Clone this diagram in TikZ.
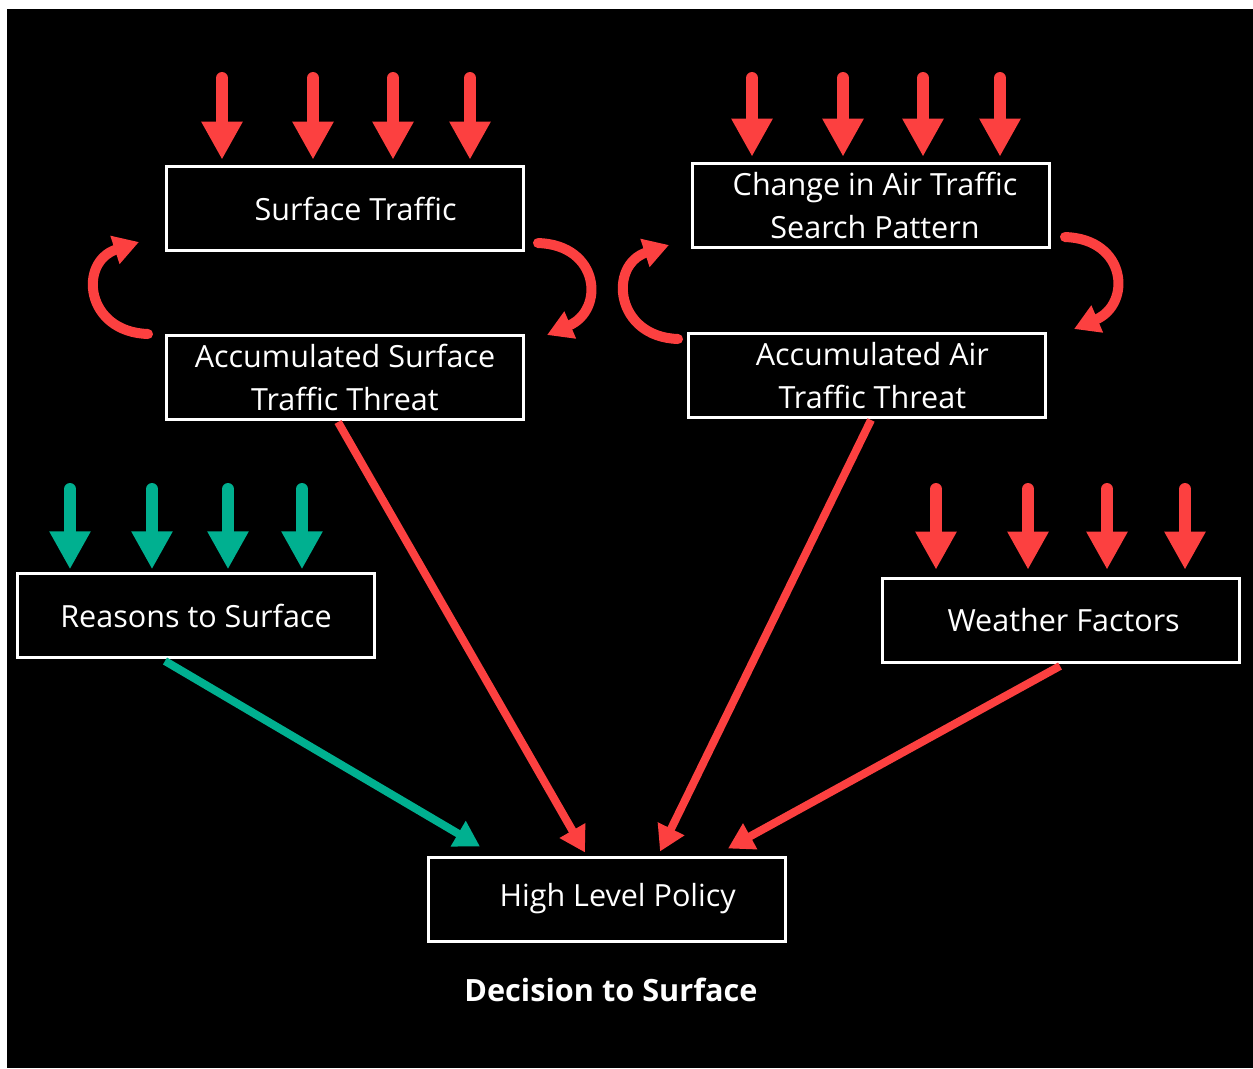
\documentclass[tikz,border=0pt]{standalone}
\usepackage{fontspec}
\setmainfont{Open Sans}
\usetikzlibrary{arrows.meta,calc}
\definecolor{ared}{RGB}{252,64,64}
\definecolor{agreen}{RGB}{0,176,144}
\tikzset{
  box/.style={draw=white, line width=2.25pt, fill=black, text=white, minimum width=268pt, minimum height=63pt, inner sep=0pt, align=center, font=\fontsize{22.9pt}{32pt}\selectfont},
  vred/.style={draw=ared, line width=9pt, line cap=round, -{Triangle[width=29pt,length=28.5pt]}},
  vgreen/.style={vred, draw=agreen},
  dred/.style={draw=ared, line width=6pt, -{Triangle[width=21pt,length=19pt]}},
  dgreen/.style={dred, draw=agreen},
  cred/.style={draw=ared, line width=7.5pt, line cap=round, -{Triangle[width=21pt,length=19pt]}},
}
\begin{document}
\begin{tikzpicture}[x=0.75pt,y=-0.75pt]
\useasboundingbox (0,0) rectangle (1253,1068);
\fill[white] (0,0) rectangle (1253,1068);
\fill[black] (7,9) rectangle (1253,1068);

\node[box] (st) at (345,208.5) {\hspace*{16pt}Surface Traffic};
\node[box] (cat) at (871,205.5) {\hspace*{6pt}Change in Air Traffic\\\hspace*{6pt}Search Pattern};
\node[box] (accs) at (345,377.5) {Accumulated Surface\\Traffic Threat};
\node[box] (acca) at (867,375.5) {\hspace*{8pt}Accumulated Air\\\hspace*{8pt}Traffic Threat};
\node[box] (rts) at (196,615.5) {Reasons to Surface};
\node[box] (wf) at (1061,620.5) {\hspace*{4pt}Weather Factors};
\node[box] (hlp) at (607,899) {\hspace*{16pt}High Level Policy};
\node[text=white, font=\fontsize{23pt}{27pt}\selectfont\bfseries] (dts) at (611,990) {Decision to Surface};

% input arrows
\foreach \x in {222,313,393,470} \draw[vred] (\x,78) -- (\x,0 |- st.north) [shorten >=4pt];
\foreach \x in {752,843,923,1000} \draw[vred] (\x,78) -- (\x,0 |- cat.north) [shorten >=4pt];
\foreach \x in {70,152,228,302} \draw[vgreen] (\x,489) -- (\x,0 |- rts.north) [shorten >=2pt];
\foreach \x in {936,1028,1107,1185} \draw[vred] (\x,489) -- (\x,0 |- wf.north) [shorten >=5.5pt];

% loops
\coordinate (l1s) at (148,334);
\coordinate (l1e) at (139,242);
\draw[cred] (l1s) .. controls (85,332) and (78,262) .. (l1e);
\coordinate (r1s) at (538,243);
\coordinate (r1e) at (547,335);
\draw[cred] (r1s) .. controls (600,245) and (605,310) .. (r1e);
\coordinate (l2s) at (678,339);
\coordinate (l2e) at (669,245);
\draw[cred] (l2s) .. controls (615,337) and (608,265) .. (l2e);
\coordinate (r2s) at (1065,237);
\coordinate (r2e) at (1074,329);
\draw[cred] (r2s) .. controls (1127,239) and (1132,304) .. (r2e);

% to policy
\draw[dred] ($(accs.south)+(-7,1)$) -- ($(hlp.north)+(-22,-3)$);
\draw[dred] ($(acca.south)+(4,1)$) -- ($(hlp.north)+(53,-4)$);
\draw[dred] ($(wf.south)+(-1,2)$) -- ($(hlp.north)+(121,-7)$);
\draw[dgreen] ($(rts.south)+(-31,2)$) -- ($(hlp.north)+(-127,-9)$);
\end{tikzpicture}
\end{document}
